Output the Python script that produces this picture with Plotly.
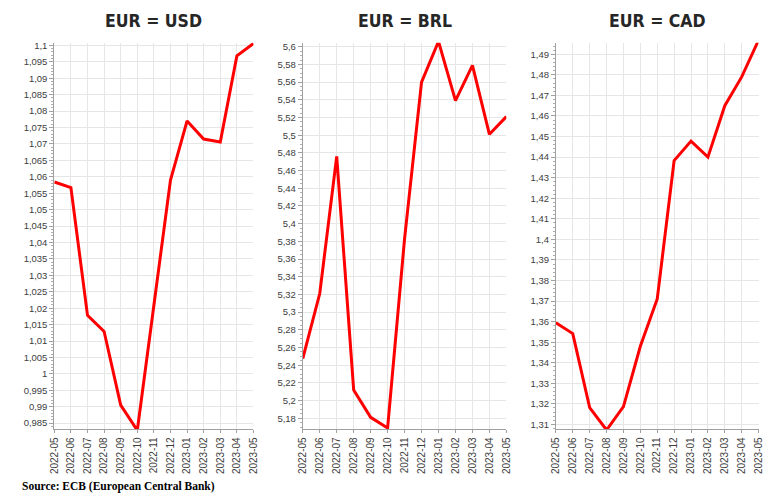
import plotly.graph_objects as go

months = ["2022-05", "2022-06", "2022-07", "2022-08", "2022-09", "2022-10", "2022-11",
          "2022-12", "2023-01", "2023-02", "2023-03", "2023-04", "2023-05"]
usd = [1.0584, 1.0567, 1.0178, 1.0129, 0.9905, 0.9828, 1.0209, 1.0590, 1.0770, 1.0715, 1.0706, 1.0968, 1.1006]
brl = [5.2475, 5.3210, 5.4760, 5.2120, 5.1810, 5.1690, 5.3830, 5.5600, 5.6060, 5.5390, 5.5790, 5.5010, 5.5210]
cad = [1.3595, 1.3542, 1.3182, 1.3073, 1.3187, 1.3480, 1.3710, 1.4383, 1.4478, 1.4400, 1.4650, 1.4790, 1.4969]
titles = ["EUR = USD", "EUR = BRL", "EUR = CAD"]
source = "Source: ECB (European Central Bank)"

series = [usd, brl, cad]
yranges = [[0.9831, 1.1008], [5.1674, 5.6045], [1.3076, 1.4956]]
dticks = [0.005, 0.02, 0.01]
minors = [0.001, 0.005, 0.002]
xdoms = [[49/784, 251/784], [301/784, 507.5/784], [557.7/784, 763.3/784]]
ydom = [64/493, 453/493]

W, H = 784, 493
fig = go.Figure()
ytickfont = dict(family="Liberation Sans, Arial, sans-serif", size=9.5, color="#404040")
xtickfont = dict(family="Liberation Sans, Arial, sans-serif", size=10, color="#404040")

for i in range(3):
    n = "" if i == 0 else str(i + 1)
    fig.add_trace(go.Scatter(x=months, y=series[i], mode="lines",
                             line=dict(color="#ff0000", width=3),
                             xaxis="x" + n, yaxis="y" + n, showlegend=False,
                             hoverinfo="x+y"))
    fig.layout["xaxis" + n] = dict(
        domain=xdoms[i], anchor="y" + n, type="category",
        categoryorder="array", categoryarray=months,
        range=[0, 12], tickangle=-90, tickfont=xtickfont,
        showgrid=True, gridcolor="#e6e6e6", gridwidth=1,
        showline=True, linecolor="#a0a0a0", linewidth=1,
        ticks="outside", ticklen=3, tickcolor="#a0a0a0",
        zeroline=False, fixedrange=True)
    fig.layout["yaxis" + n] = dict(
        domain=ydom, anchor="x" + n, range=yranges[i], dtick=dticks[i],
        tick0=0, tickfont=ytickfont,
        showgrid=True, gridcolor="#e6e6e6", gridwidth=1,
        showline=True, linecolor="#a0a0a0", linewidth=1,
        ticks="outside", ticklen=4, tickcolor="#a0a0a0",
        minor=dict(dtick=minors[i], tick0=0, ticks="outside", ticklen=2,
                   tickcolor="#b0b0b0", showgrid=False),
        zeroline=False, fixedrange=True)
    fig.add_annotation(text="<b>" + titles[i] + "</b>", xref="paper", yref="paper",
                       x=(xdoms[i][0] + xdoms[i][1]) / 2, y=1 - 18 / H,
                       xanchor="center", yanchor="middle", showarrow=False,
                       font=dict(family="DejaVu Sans Condensed, Liberation Sans Narrow, Arial Narrow, sans-serif",
                                 size=17.5, color="#262626"))

fig.add_annotation(text="<b>" + source + "</b>", xref="paper", yref="paper",
                   x=14 / W, y=1 - 486 / H, xanchor="left", yanchor="middle",
                   showarrow=False,
                   font=dict(family="Liberation Serif, Times New Roman, serif", size=11.5, color="#000000"))

fig.update_layout(width=W, height=H, margin=dict(l=0, r=0, t=0, b=0),
                  paper_bgcolor="white", plot_bgcolor="white",
                  separators=",.")
fig.write_html("out.html", config={"displayModeBar": False},
               post_script="document.body.style.margin='0';document.body.style.overflow='hidden';")
